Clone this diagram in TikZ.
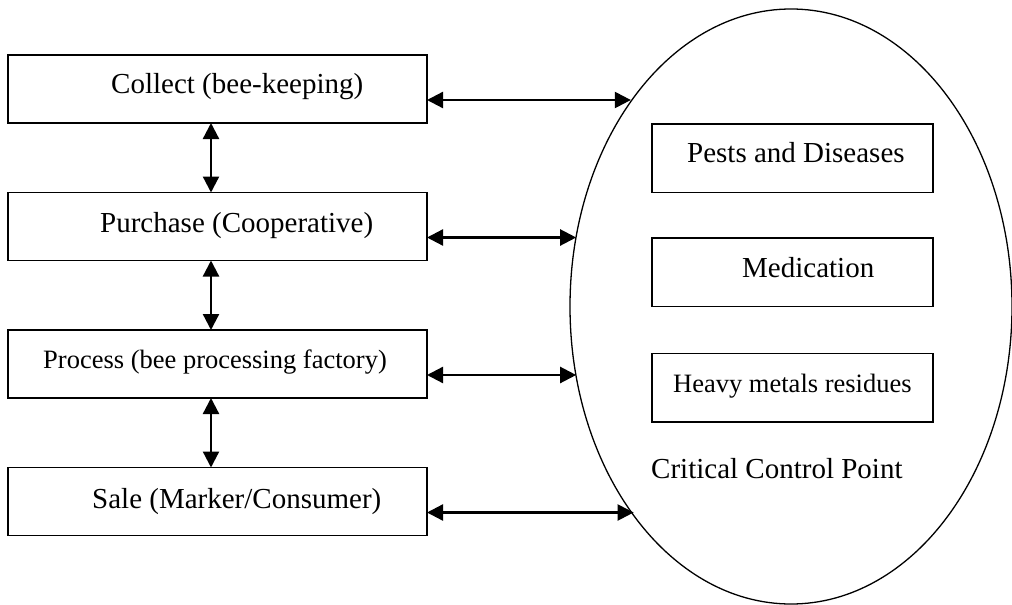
\documentclass[tikz,border=0pt]{standalone}
\usepackage{fontspec}
\setmainfont{Liberation Serif}
\usetikzlibrary{arrows.meta,shapes.geometric}
\begin{document}
\begin{tikzpicture}[x=1pt,y=-1pt,
  box/.style={draw,line width=1.3pt,minimum width=419pt,minimum height=68pt,inner sep=0pt,outer sep=0pt,anchor=north west},
  cbox/.style={draw,line width=1.3pt,minimum width=281pt,minimum height=68.5pt,inner sep=0pt,outer sep=0pt,anchor=north west},
  lbl/.style={anchor=base west,inner sep=0pt,font=\fontsize{29}{34}\selectfont},
  slbl/.style={anchor=base west,inner sep=0pt,font=\fontsize{26.5}{31}\selectfont},
  biarrow/.style={line width=2.3pt,{Triangle[length=16pt,width=16pt]}-{Triangle[length=16pt,width=16pt]}}
]
\useasboundingbox (0,0) rectangle (1012,605);

% left chain
\node[box] (collect) at (8,55) {};
\node[box] (purchase) at (8,192.5) {};
\node[box] (process) at (8,330) {};
\node[box] (sale) at (8,467.5) {};
\node[lbl] (tcollect) at (111,93) {Collect (bee-keeping)};
\node[lbl] (tpurchase) at (100,232) {Purchase (Cooperative)};
\node[slbl] (tprocess) at (43,368) {Process (bee processing factory)};
\node[lbl] (tsale) at (92,508) {Sale (Marker/Consumer)};

% critical control point ellipse
\node[draw,ellipse,line width=1.3pt,minimum width=442pt,minimum height=595pt,inner sep=0pt,outer sep=0pt] (cp) at (791,306.5) {};
\node[cbox] (pests) at (652,124) {};
\node[cbox] (medication) at (652,238) {};
\node[cbox] (heavy) at (652,353.5) {};
\node[lbl] (tpests) at (687,162) {Pests and Diseases};
\node[lbl] (tmed) at (742,277) {Medication};
\node[slbl] (theavy) at (673,392) {Heavy metals residues};
\node[lbl] (tccp) at (651,478) {Critical Control Point};

% vertical connectors
\draw[biarrow] ([xshift=-6.5pt]collect.south) -- ([xshift=-6.5pt]purchase.north);
\draw[biarrow] ([xshift=-6.5pt]purchase.south) -- ([xshift=-6.5pt]process.north);
\draw[biarrow] ([xshift=-6.5pt]process.south) -- ([xshift=-6.5pt]sale.north);

% horizontal connectors
\coordinate (a1) at ([yshift=-11pt]collect.east);
\coordinate (a2) at ([yshift=-11pt]purchase.east);
\coordinate (a3) at ([yshift=-11pt]process.east);
\coordinate (a4) at ([yshift=-11pt]sale.east);
\draw[biarrow] (a1) -- (a1 -| cp.128);
\draw[biarrow] (a2) -- (a2 -| cp.162);
\draw[biarrow] (a3) -- (a3 -| cp.198);
\draw[biarrow] (a4) -- (a4 -| cp.233);
\end{tikzpicture}
\end{document}
